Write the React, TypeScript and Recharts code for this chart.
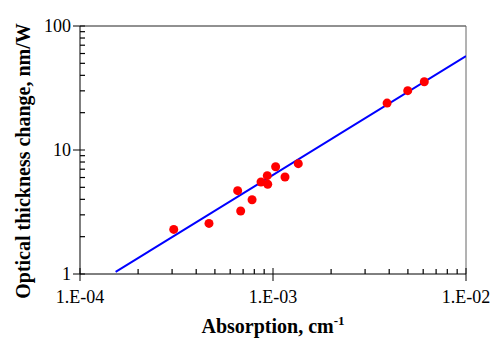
import { ScatterChart, Scatter, XAxis, YAxis, ReferenceLine } from 'recharts'

// measured points: absorption (cm^-1) vs optical thickness change (nm/W)
const absorption = [3.06e-4, 4.66e-4, 6.56e-4, 6.8e-4, 7.79e-4, 8.67e-4, 9.34e-4, 9.39e-4, 1.032e-3, 1.154e-3, 1.352e-3, 3.9e-3, 4.99e-3, 6.08e-3]
const thickness = [2.29, 2.56, 4.7, 3.22, 3.97, 5.52, 6.21, 5.29, 7.33, 6.06, 7.76, 23.9, 30.1, 35.5]

// fitted line end points
const fitX = [1.53e-4, 1e-2]
const fitY = [1.04, 57.3]

const xMajorTicks = [1e-4, 1e-3, 1e-2]
const xMajorLabels = ['1.E-04', '1.E-03', '1.E-02']
const xMinorTicks = [2e-4, 3e-4, 4e-4, 5e-4, 6e-4, 7e-4, 8e-4, 9e-4, 2e-3, 3e-3, 4e-3, 5e-3, 6e-3, 7e-3, 8e-3, 9e-3]
const yMajorTicks = [1, 10, 100]
const yMajorLabels = ['1', '10', '100']
const yMinorTicks = [2, 3, 4, 5, 6, 7, 8, 9, 20, 30, 40, 50, 60, 70, 80, 90]

const points = absorption.map((x, i) => ({ x, y: thickness[i] }))
const fit = fitX.map((x, i) => ({ x, y: fitY[i] }))
// minor tick marks sit on the axes (x minors on y = 1, y minors on x = 1e-4)
const xMinorMarks = xMinorTicks.map(x => ({ x, y: yMajorTicks[0] }))
const yMinorMarks = yMinorTicks.map(y => ({ x: xMajorTicks[0], y }))

const font = '"Liberation Serif", "Times New Roman", serif'

function XTick(props: any) {
  const { x, y, payload, index } = props
  return (
    <g>
      <line x1={x} x2={x} y1={y - 6} y2={y + 7} stroke="#000" strokeWidth={1} />
      <text x={x} y={y + 29} textAnchor="middle" fontFamily={font} fontSize={18} fill="#000">
        {xMajorLabels[index] ?? String(payload.value)}
      </text>
    </g>
  )
}

function YTick(props: any) {
  const { x, y, payload, index } = props
  return (
    <g>
      <line x1={x - 7} x2={x + 5} y1={y} y2={y} stroke="#000" strokeWidth={1} />
      <text x={x - 9} y={y} dy="0.34em" textAnchor="end" fontFamily={font} fontSize={18} fill="#000">
        {yMajorLabels[index] ?? String(payload.value)}
      </text>
    </g>
  )
}

const xMinorShape = (p: any) => (
  <rect x={p.cx - 0.6} y={p.cy - 5} width={1.2} height={5} fill="#000" />
)
const yMinorShape = (p: any) => (
  <rect x={p.cx} y={p.cy - 0.6} width={5} height={1.2} fill="#000" />
)

export default function App() {
  return (
    <div style={{ position: 'absolute', left: 0, top: 0, background: '#fff' }}>
      <ScatterChart width={497} height={348} margin={{ top: 26, right: 31, bottom: 0, left: 0 }}>
        <XAxis
          type="number"
          dataKey="x"
          scale="log"
          domain={[1e-4, 1e-2]}
          allowDataOverflow
          ticks={xMajorTicks}
          interval={0}
          tickSize={0}
          tickMargin={0}
          tickLine={false}
          tick={<XTick />}
          height={74}
          stroke="#000"
          label={{
            content: () => (
              <text x={273} y={333} textAnchor="middle" fontFamily={font} fontSize={20} fontWeight="bold" fill="#000">
                Absorption, cm<tspan dy={-8} fontSize={13}>-1</tspan>
              </text>
            )
          }}
        />
        <YAxis
          type="number"
          dataKey="y"
          scale="log"
          domain={[1, 100]}
          allowDataOverflow
          ticks={yMajorTicks}
          interval={0}
          tickSize={0}
          tickMargin={0}
          tickLine={false}
          tick={<YTick />}
          width={80}
          stroke="#000"
          label={{
            content: () => (
              <text x={30} y={161} transform="rotate(-90 30 161)" textAnchor="middle" fontFamily={font} fontSize={20} fontWeight="bold" fill="#000">
                Optical thickness change, nm/W
              </text>
            )
          }}
        />
        <ReferenceLine y={100} stroke="#222" />
        <ReferenceLine x={1e-2} stroke="#666" />
        <Scatter data={xMinorMarks} fill="#000" shape={xMinorShape} isAnimationActive={false} />
        <Scatter data={yMinorMarks} fill="#000" shape={yMinorShape} isAnimationActive={false} />
        <Scatter data={fit} line={{ stroke: '#0000ff', strokeWidth: 2 }} shape={() => null} isAnimationActive={false} />
        <Scatter data={points} fill="#ff0000" shape={(p: any) => <circle cx={p.cx} cy={p.cy} r={4.5} fill="#ff0000" />} isAnimationActive={false} />
      </ScatterChart>
    </div>
  )
}
